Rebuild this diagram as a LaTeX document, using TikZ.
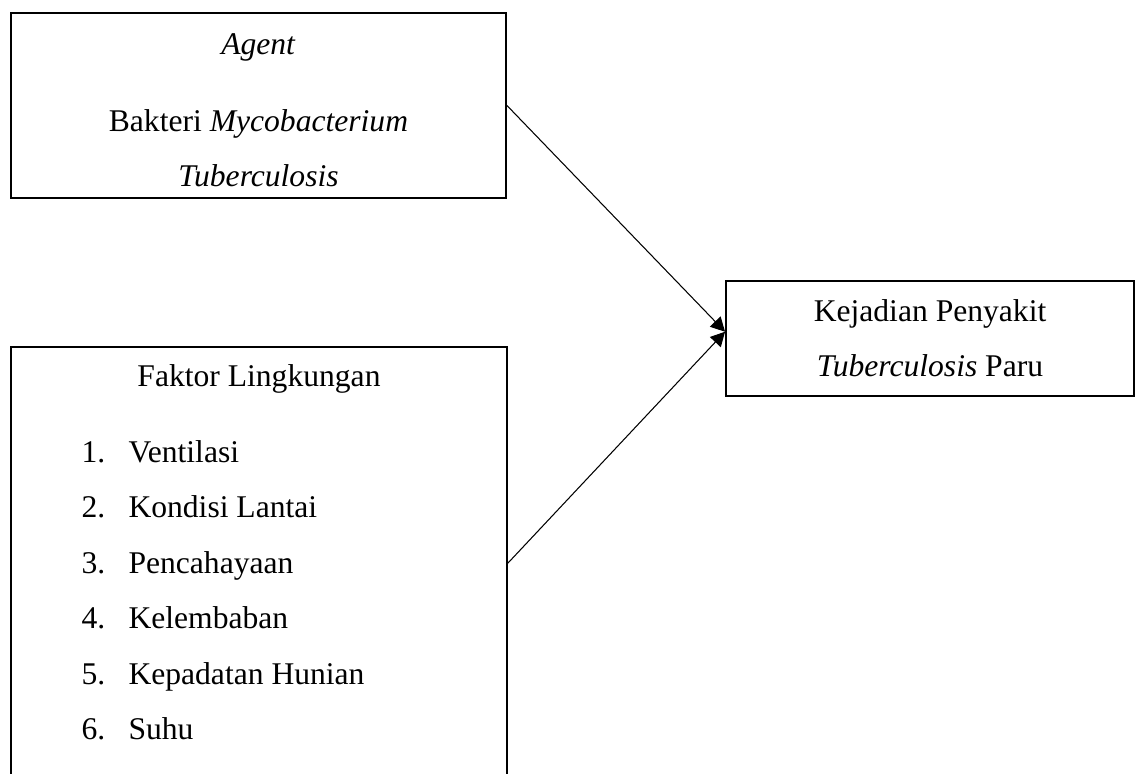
\documentclass[tikz,border=0pt]{standalone}
\usepackage{fontspec}
\setmainfont{Liberation Serif}
\usetikzlibrary{arrows.meta, calc}

\begin{document}
\begin{tikzpicture}[>={Triangle[length=5.4pt, width=5.6pt]}, font=\fontsize{12}{20.9}\selectfont,
	kotak/.style={draw, line width=0.75pt, inner sep=0pt, align=center},
	panah/.style={->, line width=0.4pt}]
\useasboundingbox (0,0) rectangle (15.163,-10.318);
\clip (0,0) rectangle (15.163,-10.318);
%========================
% Left top: agent
%========================
\node[kotak, minimum width=6.607cm, minimum height=2.469cm] (agent) at (3.450,-1.408)
	{\rule{0pt}{11.7pt}\textit{Agent}\\[8.3pt] Bakteri \textit{Mycobacterium}\\ \textit{Tuberculosis}};

%========================
% Left bottom: environment (box runs past the page)
%========================
\node[kotak, minimum width=6.621cm, minimum height=5.766cm] (lingkungan) at (3.457,-7.515) {};
\node[anchor=base] (faktor) at ($(lingkungan.north)+(0,-0.534)$) {Faktor Lingkungan};
\foreach \i/\isi in {1/Ventilasi, 2/Kondisi Lantai, 3/Pencahayaan, 4/Kelembaban, 5/Kepadatan Hunian, 6/Suhu}{
	\node[anchor=base west, inner sep=0pt] (no-\i) at ($(lingkungan.north west)+(0.948,{-1.548-0.742*(\i-1)})$) {\i.};
	\node[anchor=base west, inner sep=0pt] (item-\i) at ($(lingkungan.north west)+(1.575,{-1.548-0.742*(\i-1)})$) {\isi};
}

%========================
% Right: outcome
%========================
\node[kotak, minimum width=5.446cm, minimum height=1.535cm] (kejadian) at (12.414,-4.518)
	{Kejadian Penyakit\\ \textit{Tuberculosis} Paru};

% arrows meet a little above the middle of the left side
\coordinate (masuk) at ($(kejadian.west)+(0,0.09)$);
\draw[panah] (agent.east) -- (masuk);
\draw[panah] (lingkungan.east) -- (masuk);
\end{tikzpicture}
\end{document}
